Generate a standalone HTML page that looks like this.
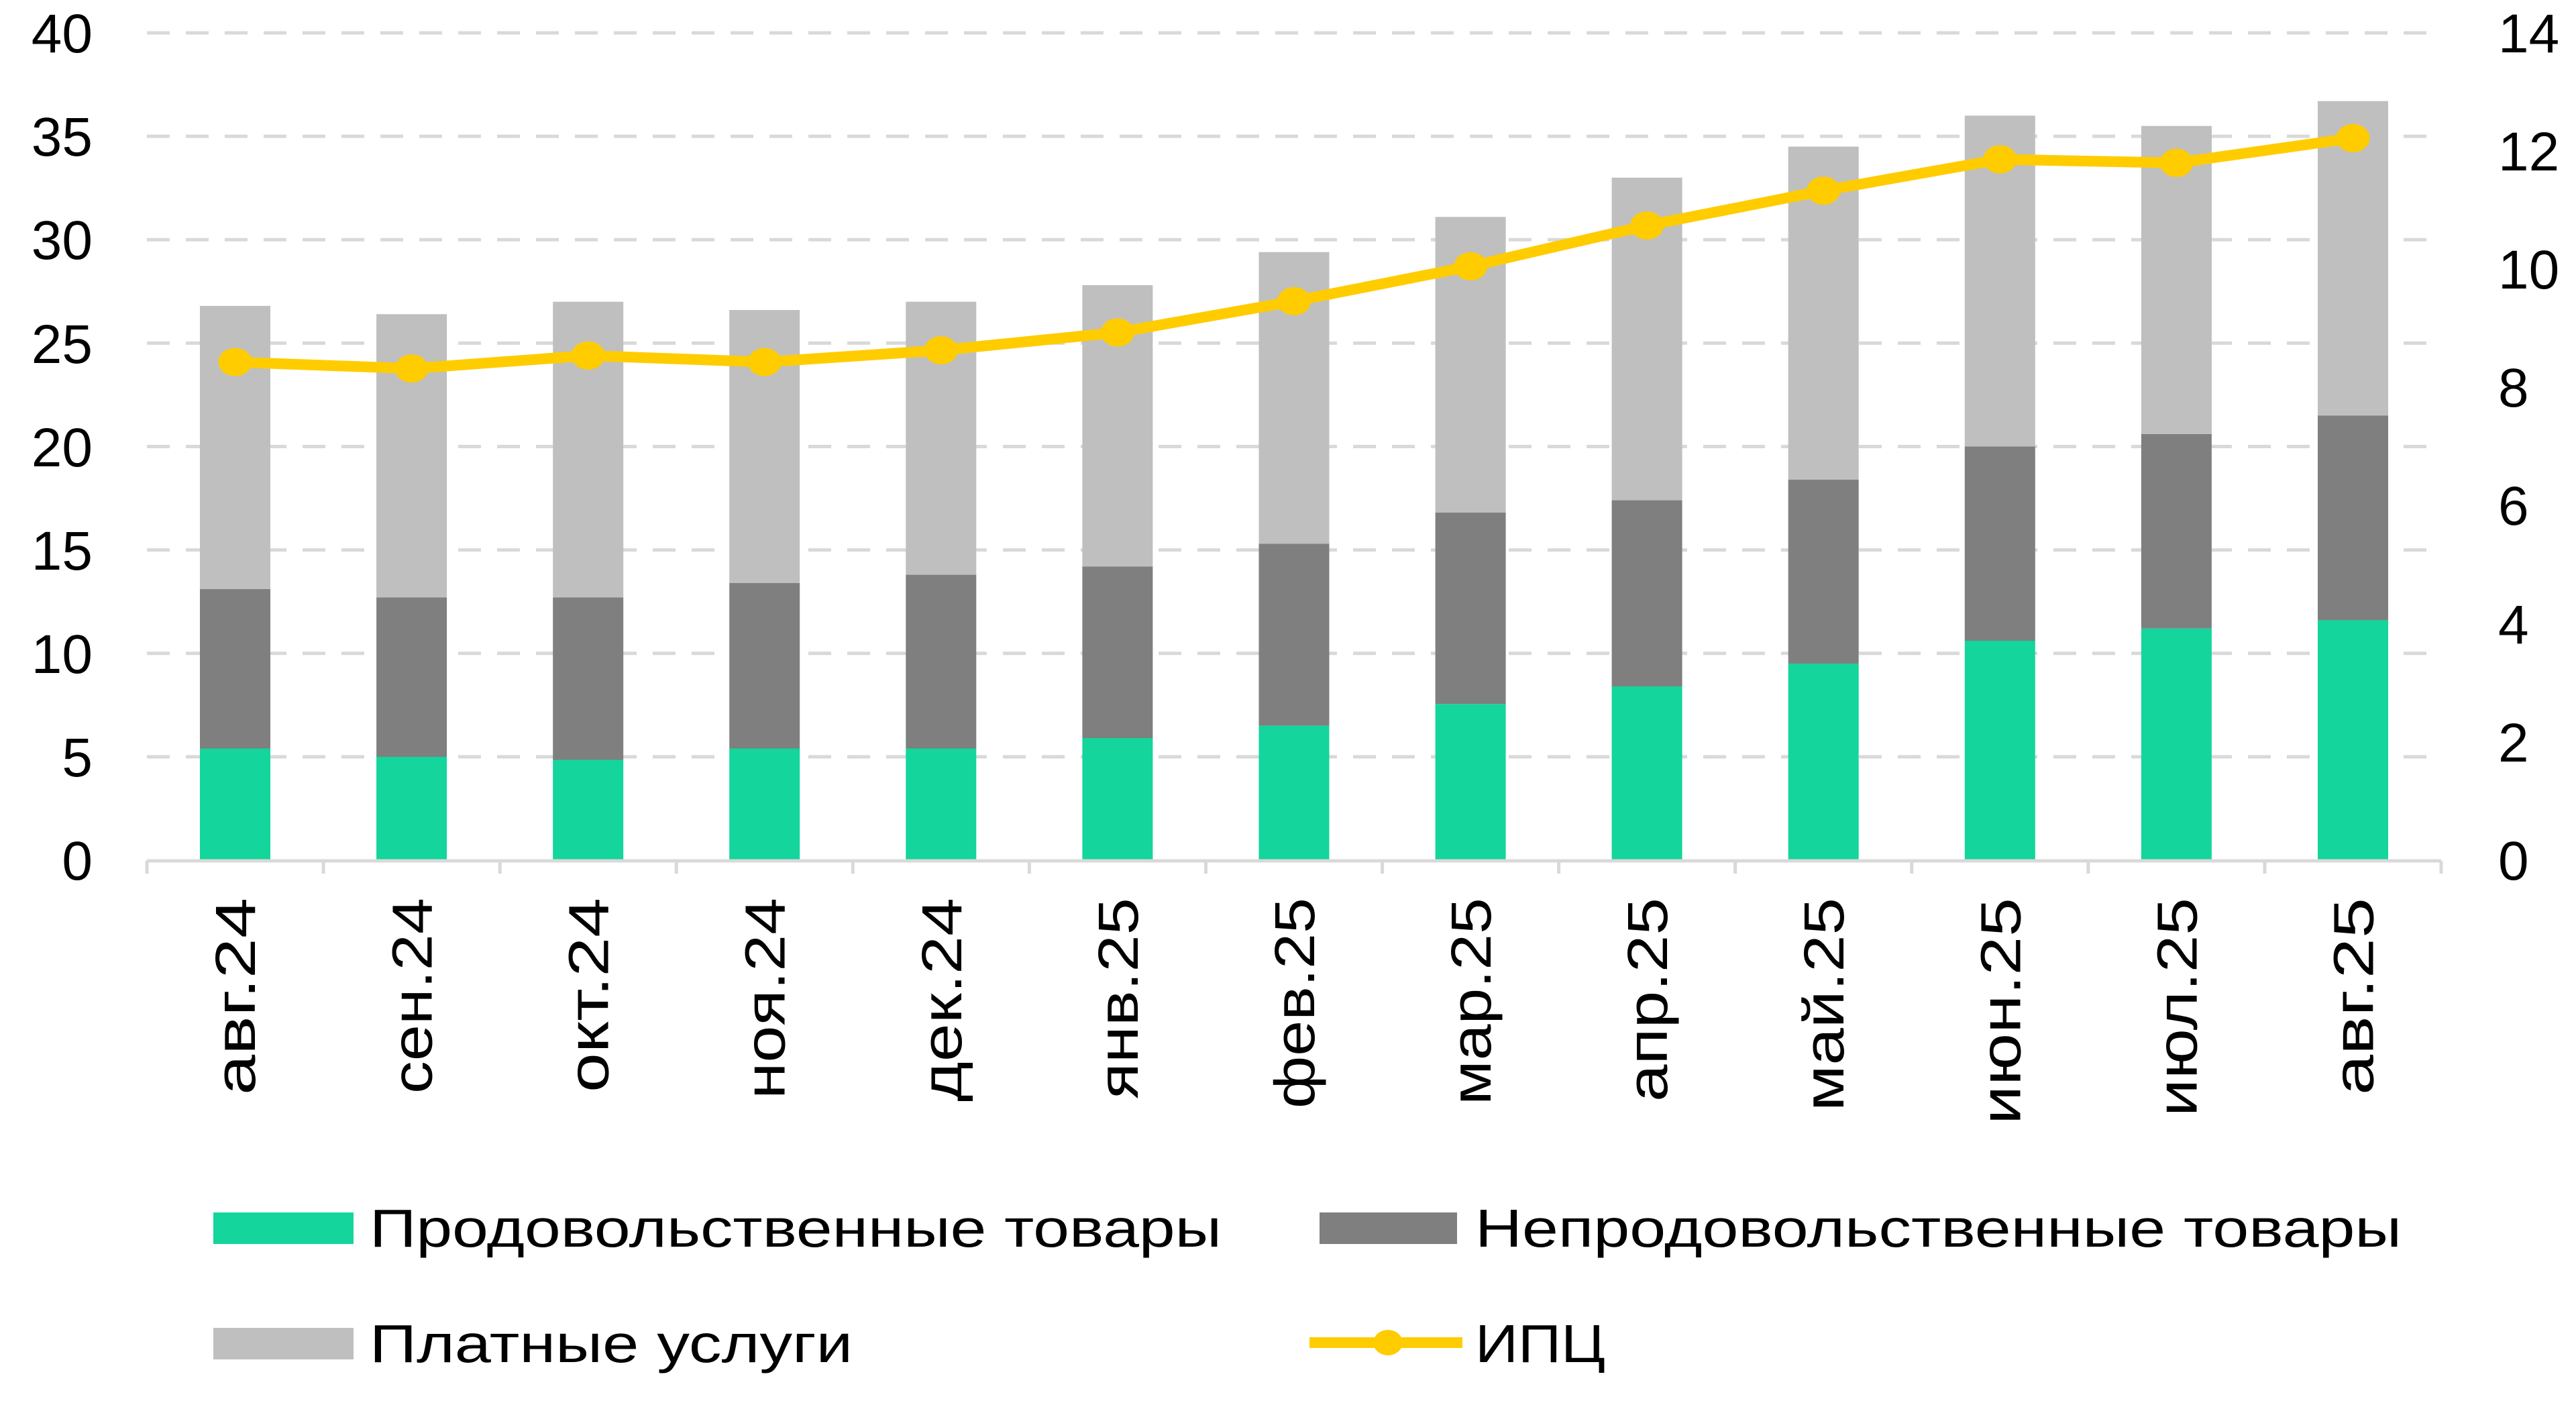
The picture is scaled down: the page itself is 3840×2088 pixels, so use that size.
<!DOCTYPE html>
<html><head><meta charset="utf-8"><style>html,body{margin:0;padding:0;background:#fff}svg{display:block}</style></head><body>
<svg width="3840" height="2088" viewBox="0 0 3840 2088" xmlns="http://www.w3.org/2000/svg" font-family="'Liberation Sans', 'DejaVu Sans', sans-serif">
<g stroke="#d9d9d9" stroke-width="5" stroke-dasharray="34 24">
<line x1="219" y1="49" x2="3639" y2="49"/>
<line x1="219" y1="203.1" x2="3639" y2="203.1"/>
<line x1="219" y1="357.2" x2="3639" y2="357.2"/>
<line x1="219" y1="511.4" x2="3639" y2="511.4"/>
<line x1="219" y1="665.5" x2="3639" y2="665.5"/>
<line x1="219" y1="819.6" x2="3639" y2="819.6"/>
<line x1="219" y1="973.7" x2="3639" y2="973.7"/>
<line x1="219" y1="1127.9" x2="3639" y2="1127.9"/>
</g>
<g>
<rect x="298" y="455.9" width="105" height="422.1" fill="#bfbfbf"/><rect x="298" y="878" width="105" height="237.5" fill="#7f7f7f"/><rect x="298" y="1115.5" width="105" height="166.5" fill="#14d59b"/>
<rect x="561.1" y="468.2" width="105" height="422.3" fill="#bfbfbf"/><rect x="561.1" y="890.5" width="105" height="237.5" fill="#7f7f7f"/><rect x="561.1" y="1128" width="105" height="154" fill="#14d59b"/>
<rect x="824.2" y="449.7" width="105" height="440.8" fill="#bfbfbf"/><rect x="824.2" y="890.5" width="105" height="242" fill="#7f7f7f"/><rect x="824.2" y="1132.5" width="105" height="149.5" fill="#14d59b"/>
<rect x="1087.2" y="462" width="105" height="407" fill="#bfbfbf"/><rect x="1087.2" y="869" width="105" height="246.5" fill="#7f7f7f"/><rect x="1087.2" y="1115.5" width="105" height="166.5" fill="#14d59b"/>
<rect x="1350.3" y="449.7" width="105" height="406.9" fill="#bfbfbf"/><rect x="1350.3" y="856.6" width="105" height="258.9" fill="#7f7f7f"/><rect x="1350.3" y="1115.5" width="105" height="166.5" fill="#14d59b"/>
<rect x="1613.4" y="425" width="105" height="419.3" fill="#bfbfbf"/><rect x="1613.4" y="844.3" width="105" height="255.7" fill="#7f7f7f"/><rect x="1613.4" y="1100" width="105" height="182" fill="#14d59b"/>
<rect x="1876.5" y="375.7" width="105" height="434.7" fill="#bfbfbf"/><rect x="1876.5" y="810.4" width="105" height="271.2" fill="#7f7f7f"/><rect x="1876.5" y="1081.6" width="105" height="200.4" fill="#14d59b"/>
<rect x="2139.6" y="323.3" width="105" height="440.7" fill="#bfbfbf"/><rect x="2139.6" y="764" width="105" height="285.3" fill="#7f7f7f"/><rect x="2139.6" y="1049.3" width="105" height="232.7" fill="#14d59b"/>
<rect x="2402.6" y="264.8" width="105" height="480.8" fill="#bfbfbf"/><rect x="2402.6" y="745.6" width="105" height="277.4" fill="#7f7f7f"/><rect x="2402.6" y="1023" width="105" height="259" fill="#14d59b"/>
<rect x="2665.7" y="218.5" width="105" height="496.3" fill="#bfbfbf"/><rect x="2665.7" y="714.8" width="105" height="274.2" fill="#7f7f7f"/><rect x="2665.7" y="989" width="105" height="293" fill="#14d59b"/>
<rect x="2928.8" y="172.3" width="105" height="493.2" fill="#bfbfbf"/><rect x="2928.8" y="665.5" width="105" height="289.5" fill="#7f7f7f"/><rect x="2928.8" y="955" width="105" height="327" fill="#14d59b"/>
<rect x="3191.9" y="187.7" width="105" height="459.3" fill="#bfbfbf"/><rect x="3191.9" y="647" width="105" height="289.8" fill="#7f7f7f"/><rect x="3191.9" y="936.8" width="105" height="345.2" fill="#14d59b"/>
<rect x="3455" y="150.7" width="105" height="468.6" fill="#bfbfbf"/><rect x="3455" y="619.3" width="105" height="305.1" fill="#7f7f7f"/><rect x="3455" y="924.4" width="105" height="357.6" fill="#14d59b"/>
</g>
<g stroke="#d9d9d9" stroke-width="5">
<line x1="219" y1="1283" x2="3639" y2="1283"/>
<line x1="219" y1="1283" x2="219" y2="1302"/><line x1="482.1" y1="1283" x2="482.1" y2="1302"/><line x1="745.2" y1="1283" x2="745.2" y2="1302"/><line x1="1008.2" y1="1283" x2="1008.2" y2="1302"/><line x1="1271.3" y1="1283" x2="1271.3" y2="1302"/><line x1="1534.4" y1="1283" x2="1534.4" y2="1302"/><line x1="1797.5" y1="1283" x2="1797.5" y2="1302"/><line x1="2060.6" y1="1283" x2="2060.6" y2="1302"/><line x1="2323.6" y1="1283" x2="2323.6" y2="1302"/><line x1="2586.7" y1="1283" x2="2586.7" y2="1302"/><line x1="2849.8" y1="1283" x2="2849.8" y2="1302"/><line x1="3112.9" y1="1283" x2="3112.9" y2="1302"/><line x1="3376" y1="1283" x2="3376" y2="1302"/><line x1="3639" y1="1283" x2="3639" y2="1302"/>
</g>
<polyline fill="none" stroke="#ffcc00" stroke-width="16" stroke-linejoin="round" points="350.5,539.6 613.6,549.3 876.7,529.9 1139.7,539.6 1402.8,522 1665.9,495.5 1929,448.9 2192.1,396.9 2455.1,336.1 2718.2,284.2 2981.3,237.5 3244.4,242.8 3507.5,205.8"/>
<g fill="#ffcc00">
<ellipse cx="350.5" cy="539.6" rx="25" ry="21"/><ellipse cx="613.6" cy="549.3" rx="25" ry="21"/><ellipse cx="876.7" cy="529.9" rx="25" ry="21"/><ellipse cx="1139.7" cy="539.6" rx="25" ry="21"/><ellipse cx="1402.8" cy="522" rx="25" ry="21"/><ellipse cx="1665.9" cy="495.5" rx="25" ry="21"/><ellipse cx="1929" cy="448.9" rx="25" ry="21"/><ellipse cx="2192.1" cy="396.9" rx="25" ry="21"/><ellipse cx="2455.1" cy="336.1" rx="25" ry="21"/><ellipse cx="2718.2" cy="284.2" rx="25" ry="21"/><ellipse cx="2981.3" cy="237.5" rx="25" ry="21"/><ellipse cx="3244.4" cy="242.8" rx="25" ry="21"/><ellipse cx="3507.5" cy="205.8" rx="25" ry="21"/>
</g>
<g font-size="82" fill="#000" text-anchor="end">
<text x="138" y="78">40</text><text x="138" y="232">35</text><text x="138" y="386">30</text><text x="138" y="541">25</text><text x="138" y="695">20</text><text x="138" y="849">15</text><text x="138" y="1003">10</text><text x="138" y="1157">5</text><text x="138" y="1311">0</text>
</g>
<g font-size="82" fill="#000" text-anchor="start">
<text x="3724" y="78">14</text><text x="3724" y="254">12</text><text x="3724" y="430">10</text><text x="3724" y="606">8</text><text x="3724" y="782">6</text><text x="3724" y="959">4</text><text x="3724" y="1135">2</text><text x="3724" y="1311">0</text>
</g>
<g font-size="84" fill="#000" text-anchor="end" lengthAdjust="spacingAndGlyphs">
<text transform="translate(380,1338) rotate(-90)" textLength="294" lengthAdjust="spacingAndGlyphs">авг.24</text>
<text transform="translate(643.6,1338) rotate(-90)" textLength="292" lengthAdjust="spacingAndGlyphs">сен.24</text>
<text transform="translate(906.7,1338) rotate(-90)" textLength="290" lengthAdjust="spacingAndGlyphs">окт.24</text>
<text transform="translate(1169.7,1338) rotate(-90)" textLength="300" lengthAdjust="spacingAndGlyphs">ноя.24</text>
<text transform="translate(1432.8,1338) rotate(-90)" textLength="304" lengthAdjust="spacingAndGlyphs">дек.24</text>
<text transform="translate(1695.9,1338) rotate(-90)" textLength="300" lengthAdjust="spacingAndGlyphs">янв.25</text>
<text transform="translate(1959,1338) rotate(-90)" textLength="314" lengthAdjust="spacingAndGlyphs">фев.25</text>
<text transform="translate(2222.1,1338) rotate(-90)" textLength="309" lengthAdjust="spacingAndGlyphs">мар.25</text>
<text transform="translate(2485.1,1338) rotate(-90)" textLength="304" lengthAdjust="spacingAndGlyphs">апр.25</text>
<text transform="translate(2748.2,1338) rotate(-90)" textLength="318" lengthAdjust="spacingAndGlyphs">май.25</text>
<text transform="translate(3011.3,1338) rotate(-90)" textLength="338" lengthAdjust="spacingAndGlyphs">июн.25</text>
<text transform="translate(3274.4,1338) rotate(-90)" textLength="326" lengthAdjust="spacingAndGlyphs">июл.25</text>
<text transform="translate(3537.5,1338) rotate(-90)" textLength="294" lengthAdjust="spacingAndGlyphs">авг.25</text>
</g>
<rect x="318" y="1807" width="209" height="47" fill="#14d59b"/>
<rect x="1967" y="1807" width="205" height="47" fill="#7f7f7f"/>
<rect x="318" y="1979" width="209" height="47" fill="#bfbfbf"/>
<line x1="1952" y1="2001" x2="2180" y2="2001" stroke="#ffcc00" stroke-width="16"/>
<ellipse cx="2069" cy="2001" rx="22" ry="19" fill="#ffcc00"/>
<g font-size="80" fill="#000">
<text x="551" y="1858" textLength="1270" lengthAdjust="spacingAndGlyphs">Продовольственные товары</text>
<text x="2199" y="1858" textLength="1381" lengthAdjust="spacingAndGlyphs">Непродовольственные товары</text>
<text x="551" y="2030" textLength="720" lengthAdjust="spacingAndGlyphs">Платные услуги</text>
<text x="2199" y="2030" textLength="194" lengthAdjust="spacingAndGlyphs">ИПЦ</text>
</g>
</svg>
</body></html>
